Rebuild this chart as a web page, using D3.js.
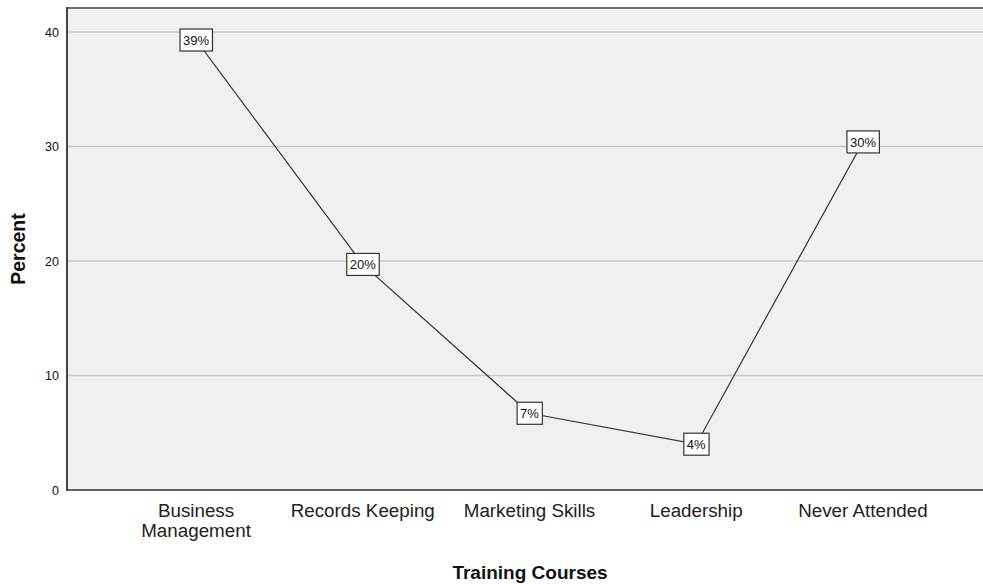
<!DOCTYPE html>
<html>
<head>
<meta charset="utf-8">
<script src="https://cdn.jsdelivr.net/npm/d3@7"></script>
<style>
  body { margin: 0; background: #fff; }
  svg { display: block; font-family: "Liberation Sans", Arial, sans-serif; }
</style>
</head>
<body>
<svg id="chart"></svg>
<script>
const courses = ["Business Management", "Records Keeping", "Marketing Skills", "Leadership", "Never Attended"];
const courseLines = [["Business", "Management"], ["Records Keeping"], ["Marketing Skills"], ["Leadership"], ["Never Attended"]];
const percents = [39.3, 19.7, 6.7, 4.0, 30.4];
const pctLabels = ["39%", "20%", "7%", "4%", "30%"];
const yTicks = [0, 10, 20, 30, 40];

const width = 983;
const height = 584;
const plotLeft = 67, plotTop = 8, plotRight = 992, plotBottom = 490;

const svg = d3.select("#chart")
  .attr("width", width)
  .attr("height", height);

const x = d3.scalePoint()
  .domain(courses)
  .range([plotLeft, plotRight])
  .padding(0.774);

const y = d3.scaleLinear()
  .domain([0, 40])
  .range([plotBottom, 32]);

// plot background
svg.append("rect")
  .attr("x", plotLeft).attr("y", plotTop)
  .attr("width", width - plotLeft).attr("height", plotBottom - plotTop)
  .attr("fill", "#f0f0f0");

// gridlines
svg.append("g")
  .selectAll("line")
  .data(yTicks.filter(d => d > 0))
  .enter().append("line")
    .attr("x1", plotLeft).attr("x2", width)
    .attr("y1", d => y(d)).attr("y2", d => y(d))
    .attr("stroke", "#c8c8c8")
    .attr("stroke-width", 1.5);

// frame
svg.append("line")
  .attr("x1", plotLeft).attr("x2", width)
  .attr("y1", plotTop).attr("y2", plotTop)
  .attr("stroke", "#6e6e6e").attr("stroke-width", 2);
svg.append("line")
  .attr("x1", plotLeft).attr("x2", plotLeft)
  .attr("y1", plotTop - 1).attr("y2", plotBottom + 1)
  .attr("stroke", "#444").attr("stroke-width", 2);
svg.append("line")
  .attr("x1", plotLeft).attr("x2", width)
  .attr("y1", plotBottom).attr("y2", plotBottom)
  .attr("stroke", "#333").attr("stroke-width", 1.5);

// y axis
const yAxis = svg.append("g")
  .attr("transform", `translate(${plotLeft},0)`)
  .call(d3.axisLeft(y).tickValues(yTicks).tickSize(0).tickPadding(8));
yAxis.select(".domain").remove();
yAxis.selectAll("text")
  .attr("font-size", 12.5)
  .attr("fill", "#111")
  .style("font-family", "'Liberation Sans', Arial, sans-serif");

// x axis labels
const xAxis = svg.append("g");
courses.forEach((c, i) => {
  const t = xAxis.append("text")
    .attr("x", x(c))
    .attr("y", 517)
    .attr("text-anchor", "middle")
    .attr("font-size", 18.8)
    .attr("fill", "#222");
  courseLines[i].forEach((ln, j) => {
    t.append("tspan").attr("x", x(c)).attr("dy", j === 0 ? 0 : 19.5).text(ln);
  });
});

// axis titles
svg.append("text")
  .attr("x", 530)
  .attr("y", 579)
  .attr("text-anchor", "middle")
  .attr("font-size", 19)
  .attr("font-weight", "bold")
  .attr("fill", "#111")
  .text("Training Courses");

svg.append("text")
  .attr("transform", `translate(25,249) rotate(-90)`)
  .attr("text-anchor", "middle")
  .attr("font-size", 19.5)
  .attr("font-weight", "bold")
  .attr("fill", "#111")
  .text("Percent");

// line
const line = d3.line()
  .x((d, i) => x(courses[i]))
  .y(d => y(d));

svg.append("path")
  .datum(percents)
  .attr("d", line)
  .attr("fill", "none")
  .attr("stroke", "#333")
  .attr("stroke-width", 1.2);

// data labels
const lbl = svg.append("g")
  .selectAll("g")
  .data(percents)
  .enter().append("g")
    .attr("transform", (d, i) => `translate(${x(courses[i])},${y(d)})`);

lbl.append("text")
  .attr("text-anchor", "middle")
  .attr("dy", "0.36em")
  .attr("font-size", 13)
  .attr("fill", "#111")
  .text((d, i) => pctLabels[i]);

lbl.each(function() {
  const g = d3.select(this);
  const bb = g.select("text").node().getBBox();
  g.insert("rect", "text")
    .attr("x", bb.x - 3)
    .attr("y", -11)
    .attr("width", bb.width + 6)
    .attr("height", 22)
    .attr("fill", "#fff")
    .attr("stroke", "#333")
    .attr("stroke-width", 1.2);
});
</script>
</body>
</html>
